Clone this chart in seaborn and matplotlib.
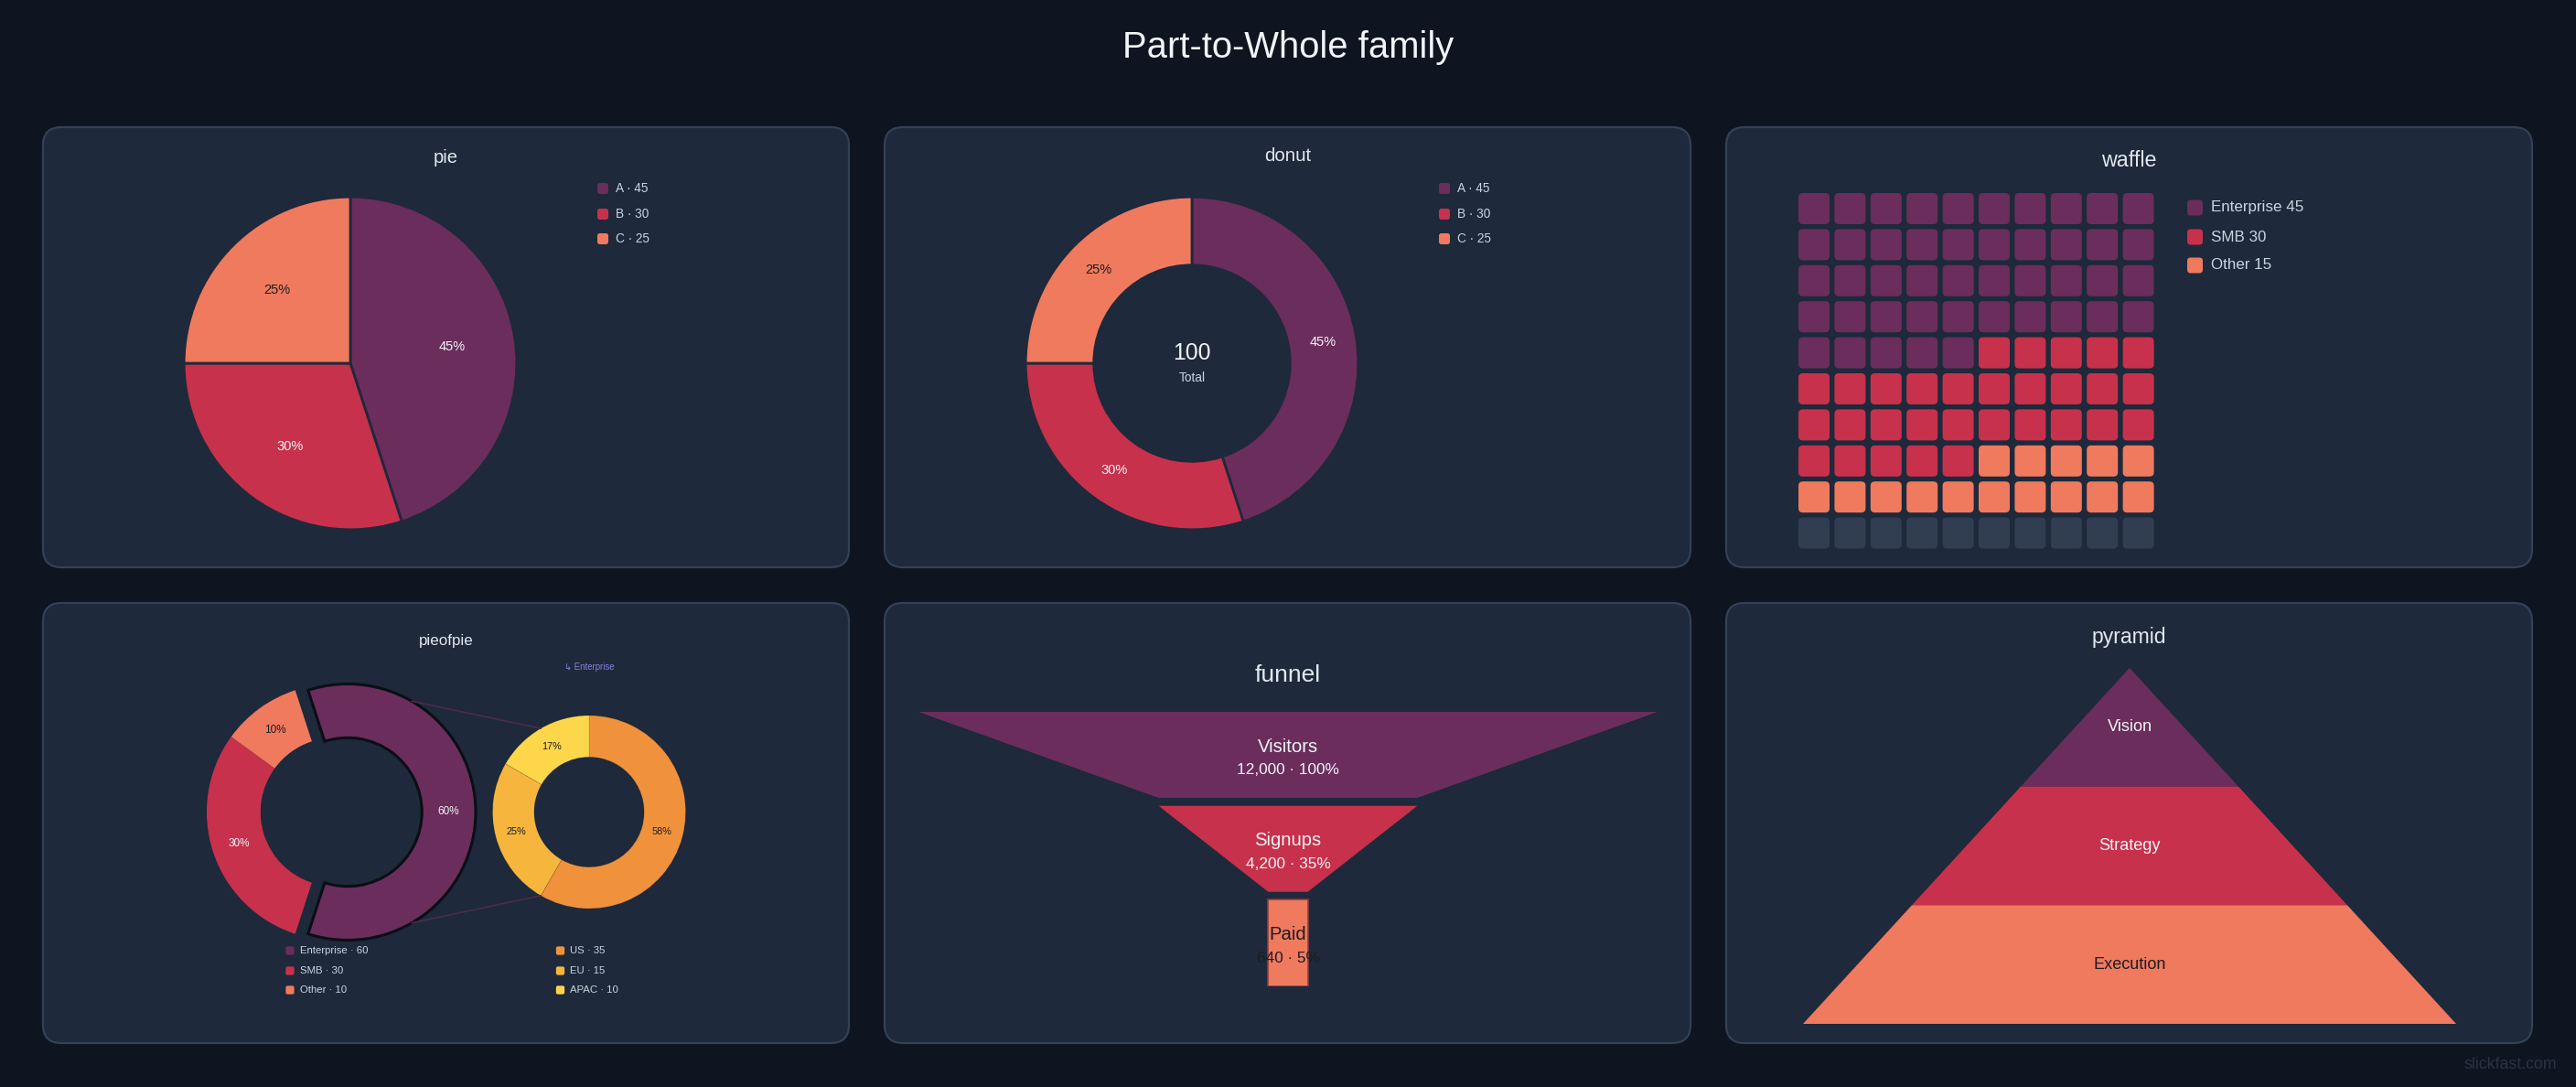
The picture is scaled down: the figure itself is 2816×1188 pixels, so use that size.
import numpy as np
import matplotlib
matplotlib.use("Agg")
import matplotlib.pyplot as plt
from matplotlib.patches import FancyBboxPatch, Polygon, ConnectionPatch
import seaborn as sns

W, H, DPI = 2816, 1188, 200

# ---- data ----
pie_labels = ["A", "B", "C"]
pie_values = [45, 30, 25]

waffle_labels = ["Enterprise", "SMB", "Other"]
waffle_values = [45, 30, 15]

pop_labels = ["Enterprise", "SMB", "Other"]
pop_values = [60, 30, 10]
pop_sub_labels = ["US", "EU", "APAC"]
pop_sub_values = [35, 15, 10]

funnel_stages = ["Visitors", "Signups", "Paid"]
funnel_values = [12000, 4200, 640]

pyramid_levels = ["Vision", "Strategy", "Execution"]

# ---- colours ----
FIG_BG = "#0e1420"
PANEL = "#1e293b"
BORDER = "#334155"
EMPTY = "#313e51"
MAIN = sns.color_palette(["#6b2d5c", "#c8314b", "#f07a5e"])
SUB = sns.color_palette(["#f0923c", "#f6b63d", "#fdd749"])
LIGHT = "#f1f5f9"
MUTED = "#cbd5e1"
DARK = "#1c1c22"

sns.set_theme(style="dark")
plt.rcParams["font.family"] = ["Liberation Sans", "DejaVu Sans"]


def pt(px):
    """pixel size -> font points at the output dpi"""
    return px * 72 / DPI


def axes_px(fig, x0, y0, x1, y1):
    ax = fig.add_axes([x0 / W, 1 - y1 / H, (x1 - x0) / W, (y1 - y0) / H])
    ax.patch.set_alpha(0)
    ax.axis("off")
    return ax


def square_axes(fig, cx, cy, half):
    return axes_px(fig, cx - half, cy - half, cx + half, cy + half)


def ring(ax, values, colors, text_colors, lim, width=None, pctdistance=0.62,
         fontsize=5.3, explode=None, startangle=90, edgecolor=PANEL, lw=1.0):
    wedges, _, autotexts = ax.pie(
        values, colors=colors, startangle=startangle, counterclock=False,
        explode=explode, autopct=lambda p: f"{p:.0f}%", pctdistance=pctdistance,
        wedgeprops=dict(width=width, edgecolor=edgecolor, linewidth=lw),
        textprops=dict(fontsize=fontsize))
    for t, c in zip(autotexts, text_colors):
        t.set_color(c)
    ax.set_xlim(-lim, lim)
    ax.set_ylim(-lim, lim)
    ax.set_aspect("equal")
    ax.axis("off")
    return wedges


def legend(bg, x, ys, labels, colors, size, fontsize, gap):
    for y, lab, col in zip(ys, labels, colors):
        bg.add_patch(FancyBboxPatch((x - size / 2, y - size / 2), size, size,
                                    boxstyle=f"round,pad=0,rounding_size={size * 0.22}",
                                    facecolor=col, edgecolor="none"))
        bg.text(x + size / 2 + gap, y, lab, color=MUTED, fontsize=fontsize,
                ha="left", va="center")


fig = plt.figure(figsize=(W / DPI, H / DPI), dpi=DPI)
fig.patch.set_facecolor(FIG_BG)

bg = fig.add_axes([0, 0, 1, 1])
bg.set_xlim(0, W)
bg.set_ylim(H, 0)
bg.axis("off")
bg.patch.set_alpha(0)

# panels
PW, PH = 881, 481
for y0 in (139, 659):
    for x0 in (47, 967, 1887):
        bg.add_patch(FancyBboxPatch((x0, y0), PW, PH,
                                    boxstyle="round,pad=0,rounding_size=20",
                                    facecolor=PANEL, edgecolor=BORDER, linewidth=0.8))

bg.text(W / 2, 52, "Part-to-Whole family", color=LIGHT, fontsize=pt(40),
        ha="center", va="center")
bg.text(2795, 1164, "slickfast.com", color="#2a3444", fontsize=pt(17.8),
        ha="right", va="center")

titles = [("pie", 487.5, 172, 20.2), ("donut", 1407.5, 171, 20.4),
          ("waffle", 2327.5, 176, 23.3), ("pieofpie", 487.5, 700, 16.9),
          ("funnel", 1407.5, 738, 26.4), ("pyramid", 2327.5, 696, 23.0)]
for txt, x, y, s in titles:
    bg.text(x, y, txt, color="#e2e8f0", fontsize=pt(s), ha="center", va="center")

pct_colors = [LIGHT, LIGHT, DARK]

# ---- pie ----
ax = square_axes(fig, 383, 397, 200)
ring(ax, pie_values, MAIN, pct_colors, 1.1, fontsize=pt(14.6), pctdistance=0.62)
legend(bg, 659, [206, 234, 261], [f"{l} · {v}" for l, v in zip(pie_labels, pie_values)],
       MAIN, 12, pt(13.7), 8)

# ---- donut ----
ax = square_axes(fig, 1303, 397, 200)
ring(ax, pie_values, MAIN, pct_colors, 1.1, width=0.41, fontsize=pt(14.6),
     pctdistance=0.795)
ax.text(0, 0.06, f"{sum(pie_values)}", color=LIGHT, fontsize=pt(24.8),
        ha="center", va="center")
ax.text(0, -0.088, "Total", color=MUTED, fontsize=pt(13.7), ha="center", va="center")
legend(bg, 1579, [206, 234, 261], [f"{l} · {v}" for l, v in zip(pie_labels, pie_values)],
       MAIN, 12, pt(13.7), 8)

# ---- waffle ----
ax = axes_px(fig, 1963.3, 208.3, 2357.3, 602.3)
ax.set_xlim(0, 10)
ax.set_ylim(10, 0)
codes = np.full(100, -1)
codes[:sum(waffle_values)] = np.repeat(np.arange(len(waffle_values)), waffle_values)
g = 0.137
for k, code in enumerate(codes):
    r, c = divmod(k, 10)
    col = MAIN[code] if code >= 0 else EMPTY
    ax.add_patch(FancyBboxPatch((c + g / 2, r + g / 2), 1 - g, 1 - g,
                                boxstyle="round,pad=0,rounding_size=0.12",
                                facecolor=col, edgecolor="none"))
legend(bg, 2399.5, [227, 259, 290],
       [f"{l} {v}" for l, v in zip(waffle_labels, waffle_values)], MAIN, 17, pt(17), 9)

# ---- pie of pie ----
ax_l = square_axes(fig, 366, 887.5, 170)
wl = ring(ax_l, pop_values, MAIN, pct_colors, 170 / 140, width=0.42,
          fontsize=pt(11.8), pctdistance=0.79, explode=[0.1, 0, 0],
          startangle=108, edgecolor="none", lw=0)
wl[0].set_edgecolor("#0a0e16")
wl[0].set_linewidth(1.1)

ax_r = square_axes(fig, 644, 887.5, 130)
ring(ax_r, pop_sub_values, SUB, [DARK] * 3, 130 / 105.5, width=0.43,
     fontsize=pt(10.9), pctdistance=0.785, edgecolor=(0, 0, 0, 0.12), lw=0.3)

for ang_l, ang_r in ((60, 120), (-60, -120)):
    a, b = np.radians(ang_l), np.radians(ang_r)
    con = ConnectionPatch(xyA=(0.1 + np.cos(a), np.sin(a)), coordsA=ax_l.transData,
                          xyB=(np.cos(b), np.sin(b)), coordsB=ax_r.transData,
                          color="#4e2a4c", linewidth=0.6)
    fig.add_artist(con)

bg.text(644, 729, "↳ Enterprise", color="#8b80dc", fontsize=pt(9.6),
        ha="center", va="center")
legend(bg, 317, [1039, 1061, 1082],
       [f"{l} · {v}" for l, v in zip(pop_labels, pop_values)], MAIN, 9.3, pt(11.4), 6)
legend(bg, 612.5, [1039, 1061, 1082],
       [f"{l} · {v}" for l, v in zip(pop_sub_labels, pop_sub_values)], SUB, 9.3, pt(11.4), 6)

# ---- funnel ----
ax = axes_px(fig, 1004, 778, 1812, 1077.5)
top = funnel_values[0]
ax.set_xlim(-top / 2, top / 2)
ax.set_ylim(2.915, 0)
step_h = 0.915
for i, (name, v) in enumerate(zip(funnel_stages, funnel_values)):
    nxt = funnel_values[i + 1] if i + 1 < len(funnel_values) else v
    last = i == len(funnel_values) - 1
    poly = Polygon([(-v / 2, i), (v / 2, i), (nxt / 2, i + step_h), (-nxt / 2, i + step_h)],
                   closed=True, facecolor=MAIN[i],
                   edgecolor="#8a3e3e" if last else "none", linewidth=0.6 if last else 0)
    ax.add_patch(poly)
    tc = DARK if last else LIGHT
    ax.text(0, i + 0.37, name, color=tc, fontsize=pt(20.3), ha="center", va="center")
    ax.text(0, i + 0.62, f"{v:,} · {v / top * 100:.0f}%", color=tc, fontsize=pt(17.2),
            ha="center", va="center")

# ---- pyramid ----
ax = axes_px(fig, 1971, 730, 2685, 1119)
n = len(pyramid_levels)
ax.set_xlim(-1, 1)
ax.set_ylim(n, 0)
for i, name in enumerate(pyramid_levels):
    a, b = i / n, (i + 1) / n
    ax.add_patch(Polygon([(-a, i), (a, i), (b, i + 1), (-b, i + 1)], closed=True,
                         facecolor=MAIN[i], edgecolor="none"))
    ax.text(0, i + 0.5, name, color=DARK if i == n - 1 else LIGHT, fontsize=pt(18.2),
            ha="center", va="center")

fig.savefig("out.png", dpi=DPI, facecolor=FIG_BG)
